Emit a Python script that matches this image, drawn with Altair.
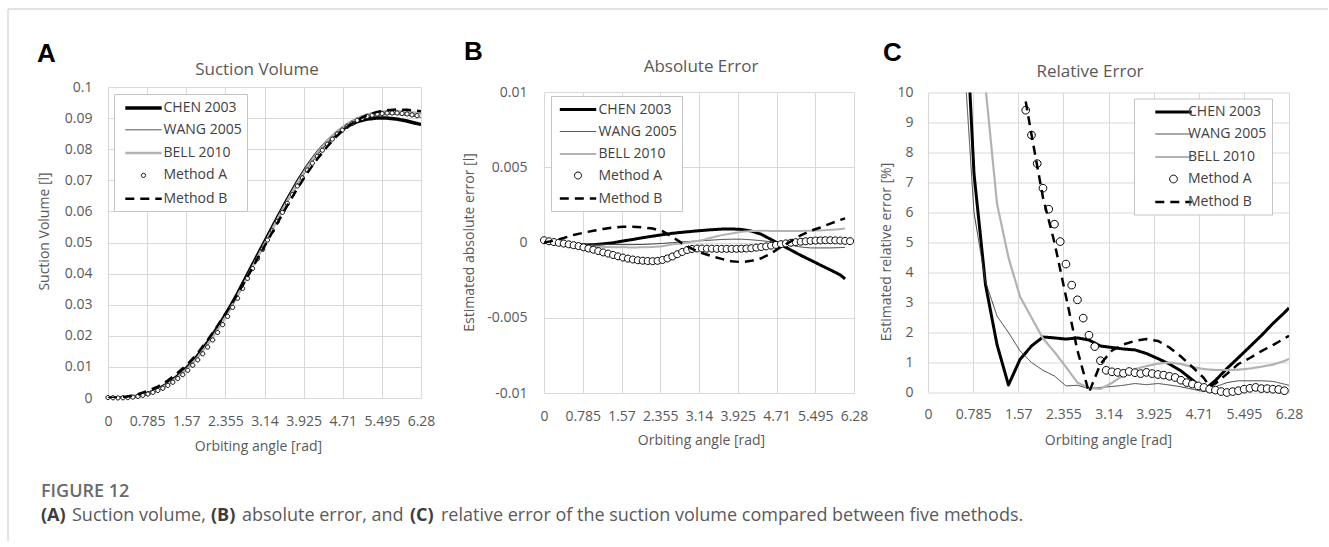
import altair as alt
import pandas as pd

# ---------------------------------------------------------------- data
SERIES = ["CHEN 2003", "WANG 2005", "BELL 2010", "Method A", "Method B"]
COLORS = ["#000000", "#3c3c3c", "#b2b2b2", "#000000", "#000000"]
DASHES = [[1, 0], [1, 0], [1, 0], [1, 0], [9, 6]]

X_TICKS = [0, 0.785, 1.57, 2.355, 3.14, 3.925, 4.71, 5.495, 6.28]
Y_TICKS_A = [0, 0.01, 0.02, 0.03, 0.04, 0.05, 0.06, 0.07, 0.08, 0.09, 0.1]
Y_TICKS_B = [-0.01, -0.005, 0, 0.005, 0.01]
Y_TICKS_C = [0, 1, 2, 3, 4, 5, 6, 7, 8, 9, 10]

TH_LINES = [0, 0.2, 0.4, 0.6, 0.8, 1.0, 1.2, 1.4, 1.6, 1.8, 2.0, 2.2, 2.4, 2.6, 2.8, 3.0,
            3.2, 3.4, 3.6, 3.8, 4.0, 4.2, 4.4, 4.6, 4.8, 5.0, 5.2, 5.4, 5.6, 5.8, 6.0, 6.2, 6.28]
TH_LINES_B = [0, 0.2, 0.4, 0.6, 0.8, 1.0, 1.2, 1.4, 1.6, 1.8, 2.0, 2.2, 2.4, 2.6, 2.8, 3.0,
              3.2, 3.4, 3.6, 3.8, 4.0, 4.2, 4.4, 4.6, 4.8, 5.0, 5.2, 5.4, 5.6, 5.8, 6.0, 6.1]
TH_POINTS = [0, 0.1, 0.2, 0.3, 0.4, 0.5, 0.6, 0.7, 0.8, 0.9, 1.0, 1.1, 1.2, 1.3, 1.4, 1.5,
             1.6, 1.7, 1.8, 1.9, 2.0, 2.1, 2.2, 2.3, 2.4, 2.5, 2.6, 2.7, 2.8, 2.9, 3.0, 3.1,
             3.2, 3.3, 3.4, 3.5, 3.6, 3.7, 3.8, 3.9, 4.0, 4.1, 4.2, 4.3, 4.4, 4.5, 4.6, 4.7,
             4.8, 4.9, 5.0, 5.1, 5.2, 5.3, 5.4, 5.5, 5.6, 5.7, 5.8, 5.9, 6.0, 6.1, 6.2]
TH_POINTS_C = [1.7, 1.8, 1.9, 2.0, 2.1, 2.2, 2.3, 2.4, 2.5, 2.6, 2.7, 2.8, 2.9, 3.0, 3.1,
               3.2, 3.3, 3.4, 3.5, 3.6, 3.7, 3.8, 3.9, 4.0, 4.1, 4.2, 4.3, 4.4, 4.5, 4.6, 4.7,
               4.8, 4.9, 5.0, 5.1, 5.2, 5.3, 5.4, 5.5, 5.6, 5.7, 5.8, 5.9, 6.0, 6.1, 6.2]
TH_MB_C = [1.7, 1.8, 2.0, 2.2, 2.4, 2.6, 2.8, 3.0, 3.2, 3.4, 3.6, 3.8, 4.0, 4.2, 4.4, 4.6,
           4.8, 4.9, 5.0, 5.2, 5.4, 5.6, 5.8, 6.0, 6.2, 6.28]

# (A) suction volume [l]
A_CHEN = [0.0, 0.0, 0.00016, 0.00062, 0.00147, 0.00278, 0.00463, 0.00708, 0.01001, 0.01361,
          0.01793, 0.02271, 0.02789, 0.0336, 0.03978, 0.04592, 0.05198, 0.05804, 0.06389,
          0.0695, 0.07456, 0.07886, 0.08247, 0.08535, 0.0874, 0.08885, 0.08968, 0.09005,
          0.09, 0.08968, 0.08905, 0.08825, 0.08795]
A_WANG = [0.0, 0.0, 0.00017, 0.00064, 0.00151, 0.00279, 0.00457, 0.00696, 0.00976, 0.01326,
          0.01747, 0.0222, 0.02734, 0.03299, 0.03914, 0.04528, 0.05132, 0.05736, 0.0632,
          0.06882, 0.07392, 0.07828, 0.08202, 0.08515, 0.08747, 0.08913, 0.0902, 0.09084,
          0.09114, 0.09114, 0.09086, 0.09043, 0.09025]
A_BELL = [0.0, 0.0, 0.00014, 0.00058, 0.0014, 0.00264, 0.00441, 0.00679, 0.00958, 0.01307,
          0.01728, 0.022, 0.02715, 0.03288, 0.03904, 0.04525, 0.05135, 0.05753, 0.06349,
          0.0692, 0.07441, 0.07888, 0.08268, 0.08582, 0.08818, 0.08997, 0.09118, 0.09189,
          0.09223, 0.09229, 0.09205, 0.09165, 0.0915]
A_MB = [0.0, 0.00012, 0.0005, 0.0012, 0.00225, 0.00368, 0.0056, 0.0081, 0.01095, 0.01446,
        0.01863, 0.02327, 0.02818, 0.0334, 0.03905, 0.04478, 0.0505, 0.05629, 0.06191,
        0.06735, 0.0724, 0.07689, 0.08087, 0.08439, 0.08717, 0.08935, 0.091, 0.092,
        0.09252, 0.09275, 0.0927, 0.09235, 0.0922]
A_MA = [0.00015, 0.00008, 0.00003, 0.00008, 0.00013, 0.00028, 0.00052, 0.00086, 0.00128,
        0.0018, 0.00242, 0.00313, 0.00404, 0.00506, 0.00627, 0.00748, 0.0089, 0.01053,
        0.01227, 0.01422, 0.01639, 0.01867, 0.02106, 0.02358, 0.02624, 0.02914, 0.03207,
        0.03522, 0.03847, 0.0416, 0.04477, 0.0478, 0.0508, 0.05379, 0.05679, 0.05968,
        0.06258, 0.06538, 0.06818, 0.07078, 0.07329, 0.0755, 0.07772, 0.07966, 0.0816,
        0.08324, 0.08489, 0.08614, 0.08739, 0.08834, 0.08928, 0.08992, 0.09055, 0.09093,
        0.09131, 0.09148, 0.09164, 0.09165, 0.09165, 0.09149, 0.09133, 0.09106, 0.09079]

# (B) absolute error [l]
B_CHEN = [0.0, -0.00002, -0.00006, -0.00011, -0.00017, -0.00015, -0.00009, -0.00002, 0.0001,
          0.0002, 0.00032, 0.00042, 0.00052, 0.00061, 0.00068, 0.00074, 0.0008, 0.00085,
          0.00089, 0.0009, 0.00087, 0.00076, 0.00055, 0.0002, -0.00015, -0.0005, -0.00085,
          -0.00117, -0.0015, -0.00182, -0.00215, -0.00242]
B_WANG = [0.0, -0.00001, -0.00003, -0.00006, -0.00009, -0.00011, -0.00013, -0.00014,
          -0.00014, -0.00014, -0.00013, -0.0001, -0.00006, -0.00001, 0.00004, 0.00008,
          0.00012, 0.00016, 0.0002, 0.00022, 0.00022, 0.00018, 0.00012, 0.00005, -0.00003,
          -0.00017, -0.0003, -0.00036, -0.00036, -0.00036, -0.00034, -0.00032]
B_BELL = [0.0, -0.00002, -0.00006, -0.00012, -0.0002, -0.00026, -0.00029, -0.00031, -0.00032,
          -0.00033, -0.00032, -0.0003, -0.00025, -0.00012, -0.00006, 0.00005, 0.00015,
          0.00033, 0.00049, 0.0006, 0.00071, 0.00076, 0.00078, 0.00077, 0.00076, 0.00076,
          0.00077, 0.00078, 0.0008, 0.00084, 0.00089, 0.00093]
B_MB = [0.0, 0.00012, 0.0003, 0.0005, 0.00065, 0.00078, 0.0009, 0.001, 0.00105, 0.00105,
        0.001, 0.00093, 0.00075, 0.00038, -0.00006, -0.00042, -0.0007, -0.00091, -0.00109,
        -0.00125, -0.0013, -0.00122, -0.00105, -0.00072, -0.0003, 0.00008, 0.00048,
        0.00078, 0.001, 0.00125, 0.0015, 0.0016]
B_MA = [0.00015, 0.00008, 0.00003, -0.00002, -0.00007, -0.00012, -0.00018, -0.00024,
        -0.00032, -0.0004, -0.00048, -0.00057, -0.00066, -0.00074, -0.00083, -0.00092,
        -0.001, -0.00107, -0.00113, -0.00118, -0.00121, -0.00123, -0.00124, -0.00122,
        -0.00116, -0.00106, -0.00093, -0.00078, -0.00063, -0.0005, -0.00043, -0.0004,
        -0.0004, -0.00041, -0.00041, -0.00042, -0.00042, -0.00042, -0.00042, -0.00042,
        -0.00041, -0.0004, -0.00038, -0.00034, -0.0003, -0.00026, -0.00021, -0.00016,
        -0.00011, -0.00006, -0.00002, 0.00002, 0.00005, 0.00008, 0.00011, 0.00013,
        0.00014, 0.00015, 0.00015, 0.00014, 0.00013, 0.00011, 0.00009]

# (C) relative error [%]  (None = not drawn)
C_CHEN = [None, None, None, 15, 7.3, 3.6, 1.6, 0.25, 1.1, 1.55, 1.85, 1.82, 1.78, 1.82,
          1.75, 1.55, 1.5, 1.45, 1.42, 1.3, 1.13, 0.95, 0.72, 0.42, 0.08, 0.4, 0.8, 1.16,
          1.53, 1.9, 2.3, 2.66, 2.82]
C_WANG = [None, None, None, 12, 6.0, 3.7, 2.55, 2.0, 1.39, 1.0, 0.74, 0.55, 0.22, 0.24,
          0.13, 0.17, 0.2, 0.24, 0.3, 0.26, 0.3, 0.25, 0.19, 0.11, 0.03, 0.19, 0.33, 0.39,
          0.39, 0.39, 0.37, 0.28, 0.24]
C_BELL = [None, None, None, None, 16, 10.2, 6.3, 4.5, 3.2, 2.5, 1.8, 1.35, 0.85, 0.33,
          0.15, 0.12, 0.32, 0.58, 0.78, 0.88, 0.96, 1.0, 0.95, 0.85, 0.78, 0.75, 0.75, 0.76,
          0.8, 0.86, 0.93, 1.05, 1.12]
C_MB = [9.7, 8.6, 6.5, 5.0, 3.2, 1.4, 0.0, 0.95, 1.4, 1.6, 1.72, 1.78, 1.72, 1.5, 1.2, 0.85,
        0.48, 0.2, 0.3, 0.62, 0.95, 1.15, 1.38, 1.58, 1.8, 1.89]
C_MA = [9.41, 8.58, 7.63, 6.81, 6.11, 5.61, 5.03, 4.28, 3.58, 3.09, 2.48, 1.91, 1.53, 1.06,
        0.74, 0.69, 0.67, 0.64, 0.70, 0.66, 0.63, 0.67, 0.63, 0.60, 0.58, 0.54, 0.50, 0.41,
        0.33, 0.28, 0.22, 0.17, 0.11, 0.08, 0.03, 0.0, 0.03, 0.06, 0.11, 0.14, 0.17, 0.13,
        0.13, 0.11, 0.10, 0.06]

CAPTION_HEAD = "FIGURE 12"
CAPTION_PARTS = ["(A)", "Suction volume,", "(B)", "absolute error, and", "(C)",
                 "relative error of the suction volume compared between five methods."]
CAPTION_BOLD = [True, False, True, False, True, False]
CAPTION_X = [-67, -36, 103, 134, 302, 333]

FONT = "Open Sans"
GREY = "#595959"


def frame(theta, values, name):
    return pd.DataFrame({"theta": theta, "value": values, "series": name})


def one_row():
    return pd.DataFrame({"k": [0]})


def panel(cfg):
    r = cfg["circle_r"]
    line_path = "M-2.6,0H2.6"
    circ_path = f"M-{r},0A{r},{r} 0 1,0 {r},0A{r},{r} 0 1,0 -{r},0Z"
    nb = "\u00a0" * cfg["label_pad"]
    legend = alt.Legend(
        orient="none", legendX=cfg["legend_x"], legendY=cfg["legend_y"],
        direction="vertical", padding=5, rowPadding=cfg["row_pad"], symbolSize=196,
        symbolOffset=cfg["sym_off"], labelOffset=cfg["lab_off"], labelFont=FONT,
        labelFontSize=14, labelColor="#404040", strokeColor="#c4c4c4", fillColor="white",
        labelExpr=f"datum.label + '{nb}'")
    color = alt.Color("series:N", title=None, legend=legend,
                      scale=alt.Scale(domain=SERIES, range=COLORS))
    dash = alt.StrokeDash("series:N", title=None, legend=legend,
                          scale=alt.Scale(domain=SERIES, range=DASHES))
    width = alt.StrokeWidth("series:N", title=None, legend=legend,
                            scale=alt.Scale(type="ordinal", domain=SERIES, range=cfg["widths"]))
    shape = alt.Shape("series:N", title=None, legend=legend,
                      scale=alt.Scale(domain=SERIES,
                                      range=[line_path, line_path, line_path, circ_path, line_path]))
    x = alt.X("theta:Q", title="Orbiting angle [rad]",
              scale=alt.Scale(domain=[0, 6.28], nice=False, zero=False),
              axis=alt.Axis(values=X_TICKS, labelExpr="'' + datum.value", labelOverlap=False,
                            labelFlush=False, labelPadding=cfg["xlab_pad"],
                            labelBaseline="middle", titleX=cfg["xtitle_x"],
                            titleY=cfg["xtitle_y"], titleBaseline="middle", titleAlign="center"))
    y = alt.Y("value:Q", title=cfg["y_title"],
              scale=alt.Scale(domain=cfg["y_domain"], nice=False, zero=False),
              axis=alt.Axis(values=cfg["y_ticks"], labelExpr="'' + datum.value",
                            labelOverlap=False, labelPadding=cfg["ylab_pad"],
                            titleX=cfg["ytitle_x"], titleY=cfg["ytitle_y"],
                            titleBaseline="middle", titleAlign="center", titleAngle=270))

    bg = alt.Chart(cfg["bg"]).mark_line(clip=True, strokeJoin="round").encode(
        x=x, y=y, color=color, strokeDash=dash, strokeWidth=width)
    pts = alt.Chart(cfg["pts"]).mark_point(filled=False, fill="white", size=196, strokeWidth=1,
                                           opacity=1).encode(x=x, y=y, color=color, shape=shape)
    fg = alt.Chart(cfg["fg"]).mark_line(clip=True, strokeJoin="round").encode(
        x=x, y=y, color=color, strokeDash=dash, strokeWidth=width)
    head = alt.Chart(one_row()).mark_text(
        text=cfg["title"], font=FONT, fontSize=17, color=GREY, align="center",
        baseline="middle").encode(x=alt.value(cfg["title_x"]), y=alt.value(cfg["title_y"]))
    letter = alt.Chart(one_row()).mark_text(
        text=cfg["letter"], font="Liberation Sans", fontSize=26, fontWeight="bold",
        color="#000000", align="left", baseline="alphabetic").encode(
        x=alt.value(cfg["letter_x"]), y=alt.value(cfg["letter_y"]))
    return alt.layer(bg, pts, fg, head, letter).properties(width=cfg["w"], height=cfg["h"])


def spacer(w, h):
    return alt.Chart(one_row()).mark_point(opacity=0).encode(
        x=alt.value(0), y=alt.value(0)).properties(width=w, height=h)


IND = dict(color="independent", strokeDash="independent", strokeWidth="independent",
           shape="independent")

cfg_a = dict(
    bg=pd.concat([frame(TH_LINES, A_CHEN, "CHEN 2003"), frame(TH_LINES, A_WANG, "WANG 2005"),
                  frame(TH_LINES, A_BELL, "BELL 2010")]),
    pts=frame(TH_POINTS, A_MA, "Method A"), fg=frame(TH_LINES, A_MB, "Method B"),
    w=313, h=311, y_domain=[0, 0.1], y_ticks=Y_TICKS_A, y_title="Suction Volume [l]",
    widths=[3.5, 1, 2.5, 1, 2.5], circle_r=0.3, legend_x=6, legend_y=7, row_pad=7.3,
    sym_off=15.5, lab_off=11, label_pad=7, xlab_pad=23, ylab_pad=16, xtitle_x=150,
    xtitle_y=48, ytitle_x=-64, ytitle_y=144, title="Suction Volume", title_x=149,
    title_y=-17, letter="A", letter_x=-71, letter_y=-25)
cfg_b = dict(
    bg=pd.concat([frame(TH_LINES_B, B_CHEN, "CHEN 2003"), frame(TH_LINES_B, B_WANG, "WANG 2005"),
                  frame(TH_LINES_B, B_BELL, "BELL 2010")]),
    pts=frame(TH_POINTS, B_MA, "Method A"), fg=frame(TH_LINES_B, B_MB, "Method B"),
    w=310, h=301, y_domain=[-0.01, 0.01], y_ticks=Y_TICKS_B,
    y_title="Estimated absolute error [l]",
    widths=[3, 1, 2, 1, 2.5], circle_r=0.5, legend_x=7, legend_y=4, row_pad=7,
    sym_off=13.5, lab_off=12, label_pad=5, xlab_pad=23, ylab_pad=17, xtitle_x=157,
    xtitle_y=47, ytitle_x=-75, ytitle_y=150, title="Absolute Error", title_x=157,
    title_y=-25, letter="B", letter_x=-80, letter_y=-32)
cfg_c = dict(
    bg=pd.concat([frame(TH_LINES, C_CHEN, "CHEN 2003"), frame(TH_LINES, C_WANG, "WANG 2005"),
                  frame(TH_LINES, C_BELL, "BELL 2010")]),
    pts=frame(TH_POINTS_C, C_MA, "Method A"), fg=frame(TH_MB_C, C_MB, "Method B"),
    w=361, h=300, y_domain=[0, 10], y_ticks=Y_TICKS_C,
    y_title="Estimated relative error [%]",
    widths=[3, 1, 2.2, 1, 2.5], circle_r=0.55, legend_x=206, legend_y=6, row_pad=7,
    sym_off=26, lab_off=6, label_pad=6, xlab_pad=22, ylab_pad=15, xtitle_x=180,
    xtitle_y=48, ytitle_x=-42, ytitle_y=159, title="Relative Error", title_x=162,
    title_y=-21, letter="C", letter_x=-45, letter_y=-32)

cap_layers = [
    alt.Chart(one_row()).mark_text(text=CAPTION_HEAD, font=FONT, fontSize=18, fontWeight=600,
                                   color="#6a6a6a", align="left", baseline="middle").encode(
        x=alt.value(-67), y=alt.value(94))
]
for txt, bold, xx in zip(CAPTION_PARTS, CAPTION_BOLD, CAPTION_X):
    cap_layers.append(alt.Chart(one_row()).mark_text(
        text=txt, font=FONT, fontSize=18, fontWeight="bold" if bold else "normal",
        color="#3d3d3d" if bold else "#5a5a5a", align="left", baseline="middle").encode(
        x=alt.value(xx), y=alt.value(118)))
cap_layers.append(alt.Chart(one_row()).mark_rule(color="#c8c8c8", strokeWidth=1).encode(
    x=alt.value(-100), y=alt.value(-389), y2=alt.value(143)))
cap_layers.append(alt.Chart(one_row()).mark_rule(color="#c8c8c8", strokeWidth=1).encode(
    x=alt.value(-100), x2=alt.value(1220), y=alt.value(-389)))
caption = alt.layer(*cap_layers).properties(width=313, height=146)

chart = alt.concat(
    panel(cfg_a), spacer(123, 1), panel(cfg_b), spacer(74, 1), panel(cfg_c), caption,
    columns=5, spacing=0, bounds="flush", align="each", center=True
).resolve_scale(**IND).resolve_legend(**IND).properties(
    padding={"left": 7, "top": 8, "right": 0, "bottom": 0}
).configure_view(stroke=None).configure_axis(
    grid=True, gridColor="#d9d9d9", gridWidth=1, domain=False, ticks=False, tickSize=0,
    labelFont=FONT, labelFontSize=14, labelColor=GREY, titleFont=FONT, titleFontSize=14,
    titleFontWeight="normal", titleColor=GREY)

chart.save("out.html", embed_options={"renderer": "svg", "actions": False})
